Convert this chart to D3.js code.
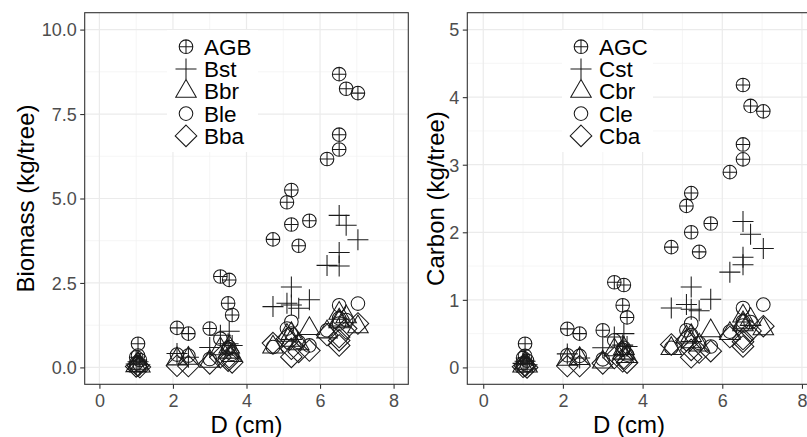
<!DOCTYPE html>
<html><head><meta charset="utf-8">
<script src="https://cdn.jsdelivr.net/npm/d3@7"></script>
<style>body{margin:0;background:#fff;overflow:hidden} svg{display:block} text{font-family:"Liberation Sans",Arial,sans-serif}</style>
</head><body><svg id="c" width="807" height="437"></svg>
<script>
// Diameter (cm) of each tree
const D   = [1.05, 1.00, 1.10, 2.11, 2.42, 3.00, 3.29, 3.53, 3.50, 3.61, 4.72, 5.22, 5.10, 5.22, 5.71, 5.42, 6.52, 6.71, 7.03, 6.52, 6.52, 6.19];
// Biomass (kg/tree)
const AGB = [0.70, 0.30, 0.22, 1.17, 1.00, 1.15, 2.69, 2.59, 1.90, 1.55, 3.79, 5.25, 4.89, 4.23, 4.34, 3.60, 8.68, 8.25, 8.12, 6.89, 6.45, 6.17];
const Bst = [0.17, 0.10, 0.08, 0.41, 0.30, 0.59, 0.95, 1.07, 0.70, 0.65, 1.80, 2.38, 1.90, 1.85, 2.00, 1.75, 4.50, 4.21, 3.78, 3.40, 3.00, 3.02];
const Bbr = [0.12, 0.05, 0.04, 0.25, 0.27, 0.18, 0.55, 0.60, 0.45, 0.35, 0.60, 1.00, 0.95, 0.80, 1.15, 0.70, 1.60, 1.50, 1.20, 1.40, 1.35, 1.05];
const Ble = [0.35, 0.12, 0.08, 0.38, 0.35, 0.25, 0.85, 0.60, 0.55, 0.40, 0.60, 1.35, 1.15, 1.00, 0.65, 0.75, 1.84, 1.40, 1.89, 1.30, 1.45, 1.10];
const Bba = [0.05, 0.03, 0.01, 0.05, 0.04, 0.12, 0.30, 0.30, 0.20, 0.15, 0.72, 0.55, 0.85, 0.31, 0.50, 0.46, 0.90, 1.15, 1.30, 0.80, 0.65, 0.96];
// Carbon (kg/tree)
const AGC = [0.35, 0.14, 0.10, 0.57, 0.50, 0.55, 1.26, 1.22, 0.92, 0.74, 1.78, 2.58, 2.39, 2.00, 2.13, 1.71, 4.18, 3.87, 3.79, 3.30, 3.08, 2.89];
const Cst = [0.09, 0.06, 0.04, 0.20, 0.14, 0.29, 0.45, 0.50, 0.33, 0.31, 0.88, 1.19, 0.93, 0.86, 1.01, 0.84, 2.16, 1.97, 1.76, 1.63, 1.52, 1.41];
const Cbr = [0.06, 0.02, 0.02, 0.12, 0.13, 0.08, 0.26, 0.28, 0.21, 0.16, 0.28, 0.47, 0.45, 0.38, 0.54, 0.33, 0.76, 0.71, 0.57, 0.66, 0.63, 0.50];
const Cle = [0.17, 0.06, 0.04, 0.18, 0.17, 0.12, 0.40, 0.29, 0.26, 0.19, 0.29, 0.65, 0.55, 0.48, 0.31, 0.36, 0.88, 0.67, 0.93, 0.62, 0.68, 0.53];
const Cba = [0.02, 0.01, 0.00, 0.02, 0.02, 0.06, 0.14, 0.14, 0.09, 0.07, 0.34, 0.26, 0.40, 0.15, 0.24, 0.22, 0.42, 0.54, 0.61, 0.38, 0.31, 0.45];

const xTicks = [0, 2, 4, 6, 8];
const xMinor = [1, 3, 5, 7];
const yTicksB = [0, 2.5, 5, 7.5, 10];
const yLabelsB = ["0.0", "2.5", "5.0", "7.5", "10.0"];
const yMinorB = [1.25, 3.75, 6.25, 8.75];
const yTicksC = [0, 1, 2, 3, 4, 5];
const yLabelsC = ["0", "1", "2", "3", "4", "5"];
const yMinorC = [0.5, 1.5, 2.5, 3.5, 4.5];
const legendB = ["AGB", "Bst", "Bbr", "Ble", "Bba"];
const legendC = ["AGC", "Cst", "Cbr", "Cle", "Cba"];
const shapes = ["cplus", "plus", "tri", "circle", "diamond"];

const svg = d3.select("#c");
const INK = "#1a1a1a";

function shapePath(s) {
  const r = 6.8;
  if (s === "circle") return `M${-r},0A${r},${r} 0 1,0 ${r},0A${r},${r} 0 1,0 ${-r},0Z`;
  if (s === "cplus") return `M${-r},0A${r},${r} 0 1,0 ${r},0A${r},${r} 0 1,0 ${-r},0Z M${-r},0H${r} M0,${-r}V${r}`;
  if (s === "plus") { const a = 10.5; return `M${-a},0H${a}M0,${-a}V${a}`; }
  if (s === "tri") { const side = 20.5, h = side * Math.sqrt(3) / 2; return `M0,${-2*h/3}L${side/2},${h/3}L${-side/2},${h/3}Z`; }
  if (s === "diamond") { const a = 10.8; return `M0,${-a}L${a},0L0,${a}L${-a},0Z`; }
}

function panel(cfg) {
  const x = d3.scaleLinear().domain([-0.4, 8.4]).range([cfg.x0, cfg.x1]);
  const y = d3.scaleLinear().domain(cfg.ydom).range([cfg.y1, cfg.y0]);
  const g = svg.append("g");
  const id = "clip" + cfg.id;
  svg.append("clipPath").attr("id", id).append("rect")
    .attr("x", cfg.x0).attr("y", cfg.y0).attr("width", cfg.x1 - cfg.x0).attr("height", cfg.y1 - cfg.y0);
  const inner = g.append("g").attr("clip-path", `url(#${id})`);
  inner.append("rect").attr("x", cfg.x0).attr("y", cfg.y0).attr("width", cfg.x1 - cfg.x0).attr("height", cfg.y1 - cfg.y0).attr("fill", "#fff");
  // grid
  inner.selectAll(".gxm").data(xMinor).enter().append("line")
    .attr("x1", d => x(d)).attr("x2", d => x(d)).attr("y1", cfg.y0).attr("y2", cfg.y1)
    .attr("stroke", "#f0f0f0").attr("stroke-width", 0.7);
  inner.selectAll(".gym").data(cfg.yMinor).enter().append("line")
    .attr("y1", d => y(d)).attr("y2", d => y(d)).attr("x1", cfg.x0).attr("x2", cfg.x1)
    .attr("stroke", "#f0f0f0").attr("stroke-width", 0.7);
  inner.selectAll(".gx").data(xTicks).enter().append("line")
    .attr("x1", d => x(d)).attr("x2", d => x(d)).attr("y1", cfg.y0).attr("y2", cfg.y1)
    .attr("stroke", "#ebebeb").attr("stroke-width", 1.2);
  inner.selectAll(".gy").data(cfg.yTicks).enter().append("line")
    .attr("y1", d => y(d)).attr("y2", d => y(d)).attr("x1", cfg.x0).attr("x2", cfg.x1)
    .attr("stroke", "#ebebeb").attr("stroke-width", 1.2);
  // legend background (drawn over grid, under points)
  const lg = inner.append("g");
  lg.append("rect").attr("x", cfg.lx0).attr("y", 30).attr("width", 91).attr("height", 122).attr("fill", "#fff");
  // points
  cfg.series.forEach((vals, si) => {
    inner.append("g").selectAll("path").data(vals).enter().append("path")
      .attr("transform", (v, i) => `translate(${x(D[i])},${y(v)})`)
      .attr("d", shapePath(shapes[si]))
      .attr("fill", "none").attr("stroke", INK).attr("stroke-width", 1.05);
  });
  // legend items
  cfg.legend.forEach((lab, i) => {
    const cy = 46.7 + i * 22.3;
    lg.append("path").attr("transform", `translate(${cfg.lx0 + 19},${cy})`).attr("d", shapePath(shapes[i]))
      .attr("fill", "none").attr("stroke", INK).attr("stroke-width", 1.05);
    lg.append("text").attr("x", cfg.lx0 + 37).attr("y", cy + 8).attr("font-size", "22.5px").attr("fill", "#000").text(lab);
  });
  // border
  g.append("rect").attr("x", cfg.x0).attr("y", cfg.y0).attr("width", cfg.x1 - cfg.x0).attr("height", cfg.y1 - cfg.y0)
    .attr("fill", "none").attr("stroke", "#333").attr("stroke-width", 1.1);
  // axes
  const ax = g.append("g").attr("transform", `translate(0,${cfg.y1})`)
    .call(d3.axisBottom(x).tickValues(xTicks).tickSize(4.5).tickPadding(5).tickFormat(d3.format("d")));
  const ay = g.append("g").attr("transform", `translate(${cfg.x0},0)`)
    .call(d3.axisLeft(y).tickValues(cfg.yTicks).tickSize(4.5).tickPadding(3.5).tickFormat((d, i) => cfg.yLabels[i]));
  [ax, ay].forEach(a => {
    a.select(".domain").remove();
    a.selectAll(".tick line").attr("stroke", "#333").attr("stroke-width", 1.1);
    a.selectAll(".tick text").attr("fill", "#4d4d4d").attr("font-size", "18px").attr("font-family", '"Liberation Sans",Arial,sans-serif');
  });
  ax.selectAll(".tick text").attr("dy", "0.72em");
  ay.selectAll(".tick text").attr("dy", "0.35em");
  // titles
  g.append("text").attr("x", (cfg.x0 + Math.min(cfg.x1, cfg.x0 + 323.6)) / 2).attr("y", 433)
    .attr("text-anchor", "middle").attr("font-size", "24px").attr("fill", "#000").text("D (cm)");
  g.append("text").attr("transform", `translate(${cfg.tx},${(cfg.y0 + cfg.y1) / 2}) rotate(-90)`)
    .attr("text-anchor", "middle").attr("font-size", "24px").attr("fill", "#000").text(cfg.ytitle);
}

panel({ id: "L", x0: 84.7, x1: 408.3, y0: 12.7, y1: 384.3, ydom: [-0.5, 10.5],
  yTicks: yTicksB, yLabels: yLabelsB, yMinor: yMinorB, series: [AGB, Bst, Bbr, Ble, Bba],
  legend: legendB, lx0: 167, tx: 33.5, ytitle: "Biomass (kg/tree)" });
panel({ id: "R", x0: 467.3, x1: 817.9, y0: 12.7, y1: 384.3, ydom: [-0.25, 5.25],
  yTicks: yTicksC, yLabels: yLabelsC, yMinor: yMinorC, series: [AGC, Cst, Cbr, Cle, Cba],
  legend: legendC, lx0: 562, tx: 443.5, ytitle: "Carbon (kg/tree)" });
</script></body></html>
